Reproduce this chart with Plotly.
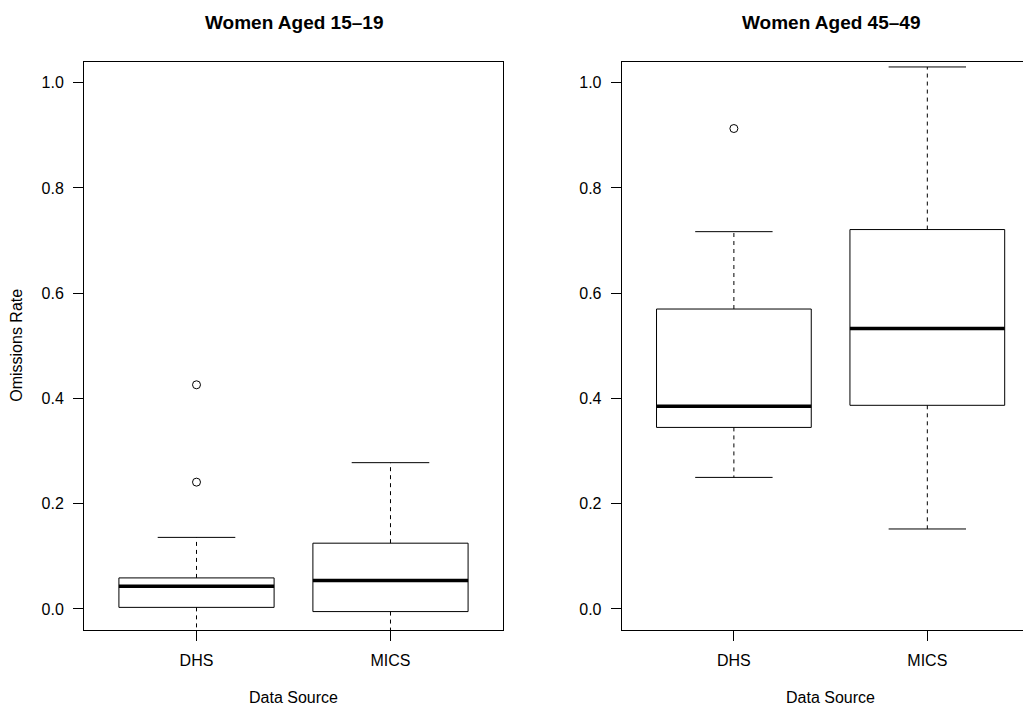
import plotly.graph_objects as go

# ---- data ----
categories = ["DHS", "MICS"]
panel_titles = ["Women Aged 15\u201319", "Women Aged 45\u201349"]

# Women aged 15-19
young_lower = [-0.06, -0.09]
young_q1 = [0.003, -0.005]
young_median = [0.043, 0.054]
young_q3 = [0.059, 0.125]
young_upper = [0.136, 0.278]
young_outliers = [[0.241, 0.426], []]

# Women aged 45-49
old_lower = [0.250, 0.152]
old_q1 = [0.345, 0.387]
old_median = [0.385, 0.533]
old_q3 = [0.570, 0.721]
old_upper = [0.717, 1.030]
old_outliers = [[0.913], []]

y_tick_vals = [0.0, 0.2, 0.4, 0.6, 0.8, 1.0]
y_tick_text = ["0.0", "0.2", "0.4", "0.6", "0.8", "1.0"]

FONT = "Liberation Sans, Arial, Helvetica, sans-serif"
OFF = 8  # default page body margin
W, H = 1031 - OFF, 707 - OFF
BOX_HALF = 0.4
STAPLE_HALF = 0.2

fig = go.Figure()


def add_panel(xa, ya, lower, q1, med, q3, upper, outliers):
    for i, _ in enumerate(categories):
        pos = i + 1
        # box body
        fig.add_trace(go.Scatter(
            x=[pos - BOX_HALF, pos + BOX_HALF, pos + BOX_HALF, pos - BOX_HALF, pos - BOX_HALF],
            y=[q1[i], q1[i], q3[i], q3[i], q1[i]],
            mode="lines", line=dict(color="black", width=1),
            fill="toself", fillcolor="white",
            xaxis=xa, yaxis=ya, showlegend=False, hoverinfo="skip"))
        # median
        fig.add_trace(go.Scatter(
            x=[pos - BOX_HALF, pos + BOX_HALF], y=[med[i], med[i]],
            mode="lines", line=dict(color="black", width=3.5),
            xaxis=xa, yaxis=ya, showlegend=False, hoverinfo="skip"))
        # whiskers (dashed)
        for a, b in ((q3[i], upper[i]), (q1[i], lower[i])):
            fig.add_trace(go.Scatter(
                x=[pos, pos], y=[a, b], mode="lines",
                line=dict(color="black", width=1, dash="4px,4px"),
                xaxis=xa, yaxis=ya, showlegend=False, hoverinfo="skip"))
        # staples
        for v in (upper[i], lower[i]):
            fig.add_trace(go.Scatter(
                x=[pos - STAPLE_HALF, pos + STAPLE_HALF], y=[v, v], mode="lines",
                line=dict(color="black", width=1),
                xaxis=xa, yaxis=ya, showlegend=False, hoverinfo="skip"))
        # outliers
        if outliers[i]:
            fig.add_trace(go.Scatter(
                x=[pos] * len(outliers[i]), y=outliers[i], mode="markers",
                marker=dict(symbol="circle-open", size=8, color="black",
                            line=dict(width=1, color="black")),
                xaxis=xa, yaxis=ya, showlegend=False, hoverinfo="skip",
                cliponaxis=True))


add_panel("x", "y", young_lower, young_q1, young_median, young_q3, young_upper, young_outliers)
add_panel("x2", "y2", old_lower, old_q1, old_median, old_q3, old_upper, old_outliers)

px = lambda v: (v - OFF) / W
py = lambda v: 1 - (v - OFF) / H

left_dom = [px(84), px(503)]
right_dom = [px(621.7), 1.0]
y_dom = [py(630), py(61.7)]

tickfont = dict(family=FONT, size=16, color="black")
xcommon = dict(tickvals=[1, 2], ticktext=categories, ticks="outside", ticklen=10,
               tickcolor="black", tickwidth=1, showline=True, linecolor="black",
               linewidth=1, mirror=True, showgrid=False, zeroline=False,
               tickfont=tickfont, ticklabelstandoff=6, fixedrange=True)
ycommon = dict(range=[-0.04, 1.04], tickvals=y_tick_vals, ticktext=y_tick_text,
               ticks="outside", ticklen=10, tickcolor="black", tickwidth=1,
               showline=True, linecolor="black", linewidth=1, showgrid=False,
               zeroline=False, tickfont=tickfont, ticklabelstandoff=6, fixedrange=True)

fig.update_layout(
    width=W, height=H,
    margin=dict(l=0, r=0, t=0, b=0),
    paper_bgcolor="white", plot_bgcolor="white",
    font=dict(family=FONT, color="black"),
    xaxis=dict(domain=left_dom, range=[0.42, 2.58], anchor="y", **xcommon),
    yaxis=dict(domain=y_dom, anchor="x", mirror=True, **ycommon),
    xaxis2=dict(domain=right_dom, range=[0.42, 2.536], anchor="y2", **xcommon),
    yaxis2=dict(domain=y_dom, anchor="x2", mirror=False, **ycommon),
)

annotations = [
    dict(text="<b>" + panel_titles[0] + "</b>", x=px(293.5), y=py(22)),
    dict(text="<b>" + panel_titles[1] + "</b>", x=px(830.5), y=py(22)),
    dict(text="Data Source", x=px(293.5), y=py(697)),
    dict(text="Data Source", x=px(830.5), y=py(697)),
]
for a in annotations:
    size = 19 if a["text"].startswith("<b>") else 16
    fig.add_annotation(xref="paper", yref="paper", x=a["x"], y=a["y"], text=a["text"],
                       showarrow=False, xanchor="center", yanchor="middle",
                       font=dict(family=FONT, size=size, color="black"))
fig.add_annotation(xref="paper", yref="paper", x=px(17), y=py(345.8), text="Omissions Rate",
                   textangle=-90, showarrow=False, xanchor="center", yanchor="middle",
                   font=dict(family=FONT, size=16, color="black"))

fig.write_html("out.html")
